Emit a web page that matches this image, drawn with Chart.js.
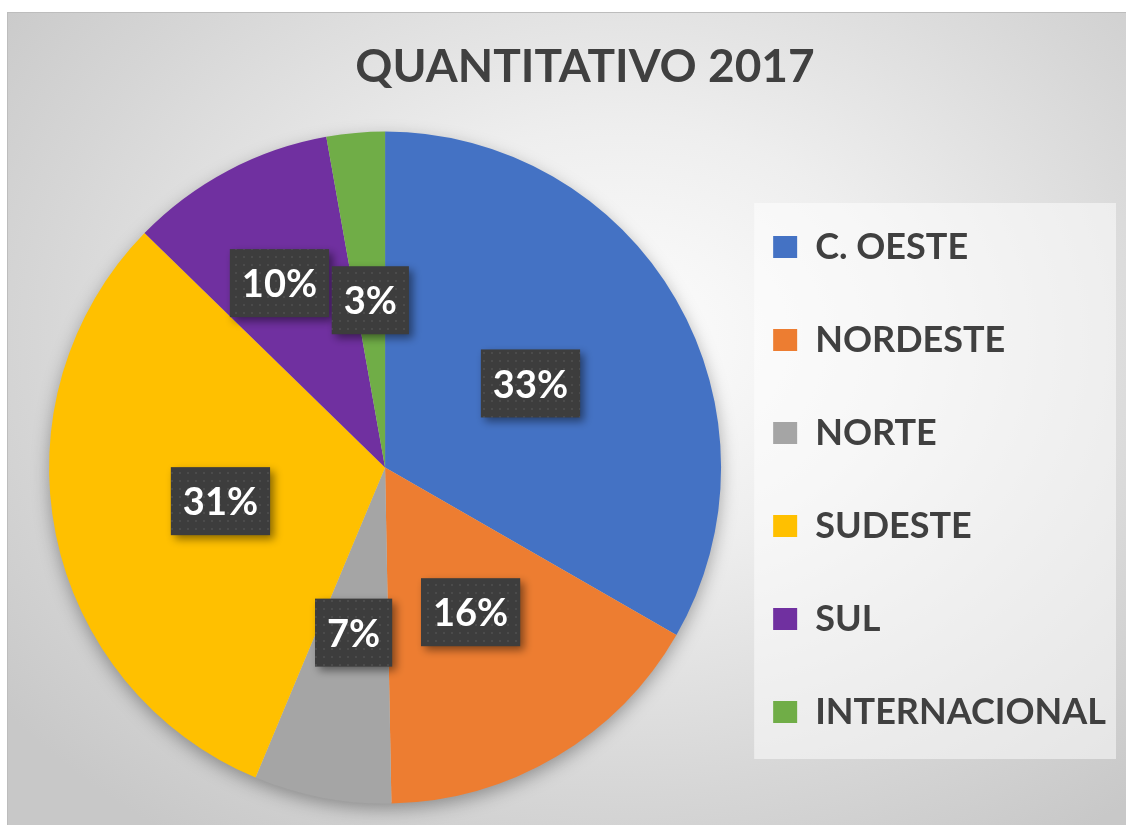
<!DOCTYPE html>
<html>
<head>
<meta charset="utf-8">
<script src="https://cdn.jsdelivr.net/npm/chart.js@4.4.1/dist/chart.umd.min.js"></script>
<style>
html,body{margin:0;padding:0;background:#fff;overflow:hidden;}
#frame{
position:absolute;left:7px;top:12px;width:1118px;height:812px;
border-top:1px solid #bdbdbd;border-left:1px solid #bdbdbd;
background:radial-gradient(ellipse 70% 75% at 55% 40%,#fdfdfd 0%,#eeeeee 35%,#d6d6d6 75%,#c8c8c8 100%);
}
canvas{display:block;}
</style>
</head>
<body>
<div id="frame"><canvas id="pieChart"></canvas></div>
<script>
/* ================= DATA ================= */
const chartTitle="QUANTITATIVO 2017";
const regions=["C. OESTE","NORDESTE","NORTE","SUDESTE","SUL","INTERNACIONAL"];
const shares=[33.3,16.4,6.6,31.0,9.9,2.8];
const sliceColors=["#4472C4","#ED7D31","#A5A5A5","#FFC000","#7030A0","#70AD47"];

/* label nudges (Excel moved the SUL label away from the 3% one) */
const labelNudge={4:[-27,-36]};

/* ================= PLUGINS ================= */
const legendPanel={
id:"legendPanel",
beforeDraw(chart){
const lg=chart.legend;
if(!lg||!lg.legendHitBoxes||!lg.legendHitBoxes.length)return;
const hb=lg.legendHitBoxes;
const last=hb[hb.length-1];
const ctx=chart.ctx;
ctx.save();
ctx.fillStyle="rgba(255,255,255,0.5)";
const x0=hb[0].left-19;
const y0=hb[0].top-26;
ctx.fillRect(x0,y0,lg.right-x0,last.top+last.height+29-y0);
ctx.restore();
}
};

const pieShadow={
id:"pieShadow",
beforeDatasetsDraw(chart){
const arc=chart.getDatasetMeta(0).data[0];
if(!arc)return;
const p=arc.getProps(["x","y","outerRadius"],true);
const ctx=chart.ctx;
ctx.save();
ctx.shadowColor="rgba(0,0,0,0.35)";
ctx.shadowBlur=18;
ctx.shadowOffsetY=6;
ctx.fillStyle="#cccccc";
ctx.beginPath();
ctx.arc(p.x,p.y,p.outerRadius-1,0,Math.PI*2);
ctx.fill();
ctx.restore();
}
};

function dotPattern(ctx){
const c=document.createElement("canvas");
c.width=8;c.height=8;
const x=c.getContext("2d");
x.fillStyle="#3d3d3d";
x.fillRect(0,0,8,8);
x.fillStyle="#4b4b4b";
x.fillRect(3,3,2,2);
return ctx.createPattern(c,"repeat");
}

const labelBoxes={
id:"labelBoxes",
afterDatasetsDraw(chart){
const ctx=chart.ctx;
const meta=chart.getDatasetMeta(0);
const total=shares.reduce((a,b)=>a+b,0);
const pat=dotPattern(ctx);
ctx.save();
ctx.font="bold 38px Lato";
ctx.textAlign="center";
ctx.textBaseline="middle";
meta.data.forEach((arc,i)=>{
const p=arc.getProps(["x","y","startAngle","endAngle","outerRadius"],true);
const mid=(p.startAngle+p.endAngle)/2;
const n=labelNudge[i]||[0,0];
const cx=p.x+Math.cos(mid)*p.outerRadius*0.5+n[0];
const cy=p.y+Math.sin(mid)*p.outerRadius*0.5+n[1];
const txt=Math.round(shares[i]/total*100)+"%";
const w=ctx.measureText(txt).width+24;
const h=68;
ctx.shadowColor="rgba(0,0,0,0.45)";
ctx.shadowBlur=8;
ctx.shadowOffsetX=4;
ctx.shadowOffsetY=4;
ctx.fillStyle=pat;
ctx.fillRect(cx-w/2,cy-h/2,w,h);
ctx.shadowColor="transparent";
ctx.fillStyle="#ffffff";
ctx.fillText(txt,cx,cy+2);
});
ctx.restore();
}
};

/* ================= CHART ================= */
function draw(){
new Chart(
document.getElementById("pieChart"),
{
type:"pie",
data:{
labels:regions,
datasets:[{
data:shares,
backgroundColor:sliceColors,
borderWidth:0,
radius:336
}]
},
options:{
responsive:true,
maintainAspectRatio:false,
animation:false,
layout:{padding:{left:46,right:10,top:0,bottom:0}},
plugins:{
title:{
display:true,
text:chartTitle,
color:"#404040",
font:{family:"Lato",size:46,weight:"bold"},
padding:{top:27,bottom:15}
},
legend:{
position:"right",
align:"start",
title:{display:true,text:" ",font:{size:10},padding:{top:70,bottom:77}},
labels:{
color:"#404040",
font:{family:"Lato",size:36,weight:"bold"},
boxWidth:24,
boxHeight:22,
padding:57
}
},
tooltip:{enabled:false}
}
},
plugins:[legendPanel,pieShadow,labelBoxes]
}
);
}

Promise.all([
document.fonts.load("bold 46px Lato"),
document.fonts.load("bold 36px Lato")
]).then(draw,draw);
</script>
</body>
</html>
